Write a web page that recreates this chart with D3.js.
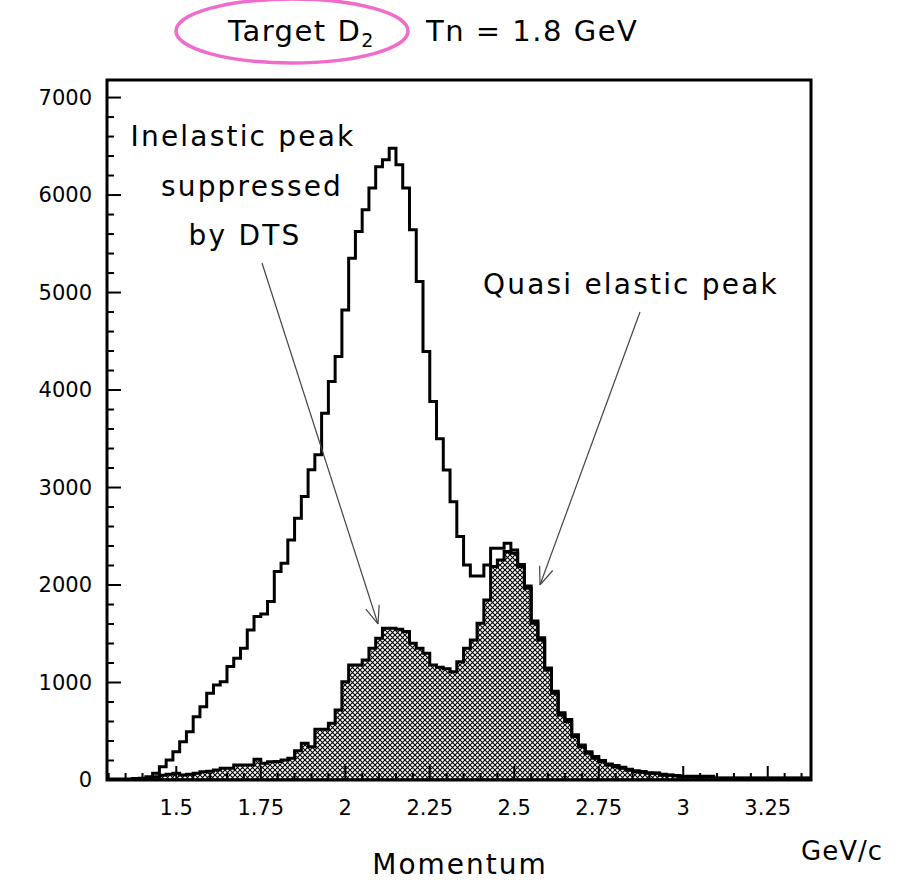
<!DOCTYPE html>
<html><head><meta charset="utf-8">
<script src="https://cdn.jsdelivr.net/npm/d3@7"></script>
<style>body{margin:0;background:#fff}</style>
</head><body>
<script>
// histogram bins: width 0.02 GeV starting at 1.29
var binStart = 1.29, binWidth = 0.02;
var totalCounts = [0,0,0,0,0,0,10,
	68,137,205,290,393,496,650,752,889,975,1009,1163,1248,1351,1539,1676,1703,1830,2138,2223,2462,2685,2907,3181,3335,
	3762,4087,4343,4822,5352,5626,5848,6071,6289,6361,6481,6310,6071,5643,5113,4395,3882,
	3500,3180,2855,2497,2206,2093,2093,2206,2377,2377,2428,2360,
	2210,1990,1630,1460,1150,910,690,620,465,360,290,240,200,165,148,130,110,95,88,75,72,58,52,45,38,38,38,38,38,
	20,20,20,20,20,20,20,20,20,20,20,20,20,20];
var dtsCounts = [10,10,10,10,15,17,34,
	34,50,60,68,51,60,68,85,90,103,120,120,154,154,154,212,171,188,190,205,222,300,376,342,520,520,581,718,1009,
	1180,1180,1231,1351,1453,1556,1556,1546,1522,1402,1351,1300,1180,1156,1140,1111,
	1214,1351,1436,1607,1847,2189,2257,2343,2326,2189,1966,1607,1436,1129,889,667,599,445,342,274,222,188,154,137,120,100,85,80,68,68,50,48,40,
	34,34,34,34,34,17,17,17,17,17,17,17,17,17,17,17,17,17,17];
var xTicks = [1.5,1.75,2,2.25,2.5,2.75,3,3.25];
var yTicks = [0,1000,2000,3000,4000,5000,6000,7000];

var W = 913, H = 882, font = "DejaVu Sans";
var mLeft = 107, mRight = 811, mTop = 80, mBottom = 780;
var x = d3.scaleLinear().domain([1.295, 3.378]).range([mLeft, mRight]);
var y = d3.scaleLinear().domain([0, 7180]).range([mBottom, mTop]);

var svg = d3.select("body").append("svg").attr("width", W).attr("height", H);

var defs = svg.append("defs");
var pat = defs.append("pattern").attr("id", "hatch").attr("patternUnits", "userSpaceOnUse")
	.attr("width", 5).attr("height", 5);
pat.append("rect").attr("width", 5).attr("height", 5).attr("fill", "#fff");
pat.append("path").attr("d", "M0,0L5,5M5,0L0,5").attr("stroke", "#000").attr("stroke-width", 1.1);
defs.append("marker").attr("id", "arr").attr("viewBox", "0 0 20 20").attr("refX", 20).attr("refY", 10)
	.attr("markerWidth", 20).attr("markerHeight", 20).attr("markerUnits", "userSpaceOnUse").attr("orient", "auto")
	.append("path").attr("d", "M2,3L20,10L2,17").attr("fill", "none").attr("stroke", "#444").attr("stroke-width", 1.2);

function stepPath(counts){
	var d = "M" + x(binStart) + "," + y(0);
	counts.forEach(function(c, i){
		var x0 = x(binStart + i*binWidth), x1 = x(binStart + (i+1)*binWidth);
		d += "L" + x0 + "," + y(c) + "L" + x1 + "," + y(c);
	});
	return d + "L" + x(binStart + counts.length*binWidth) + "," + y(0);
}

var g = svg.append("g");
g.append("clipPath").attr("id", "clip").append("rect")
	.attr("x", mLeft).attr("y", mTop).attr("width", mRight-mLeft).attr("height", mBottom-mTop);
var plot = g.append("g").attr("clip-path", "url(#clip)");
plot.append("path").attr("d", stepPath(dtsCounts) + "Z").attr("fill", "url(#hatch)")
	.attr("stroke", "#000").attr("stroke-width", 3).attr("stroke-linejoin", "miter");
plot.append("path").attr("d", stepPath(totalCounts)).attr("fill", "none")
	.attr("stroke", "#000").attr("stroke-width", 3);

// ticks (inward)
var yMinor = d3.range(0, 7001, 200);
g.selectAll(".ym").data(yMinor).enter().append("line")
	.attr("x1", mLeft).attr("x2", function(d){ return mLeft + (d % 1000 === 0 ? 14 : 7); })
	.attr("y1", function(d){ return y(d); }).attr("y2", function(d){ return y(d); })
	.attr("stroke", "#000").attr("stroke-width", 2);
var xMinor = d3.range(1.30, 3.37, 0.05);
g.selectAll(".xm").data(xMinor).enter().append("line")
	.attr("x1", function(d){ return x(d); }).attr("x2", function(d){ return x(d); })
	.attr("y1", mBottom).attr("y2", function(d){ return mBottom - (Math.abs(d*4 - Math.round(d*4)) < 1e-6 ? 14 : 7); })
	.attr("stroke", "#000").attr("stroke-width", 2);

g.append("rect").attr("x", mLeft).attr("y", mTop).attr("width", mRight-mLeft).attr("height", mBottom-mTop)
	.attr("fill", "none").attr("stroke", "#000").attr("stroke-width", 3);

g.selectAll(".yl").data(yTicks).enter().append("text")
	.attr("x", mLeft - 15).attr("y", function(d){ return y(d); }).attr("dy", "0.35em")
	.attr("text-anchor", "end").attr("font-family", font).attr("font-size", 21).text(function(d){ return d; });
g.selectAll(".xl").data(xTicks).enter().append("text")
	.attr("x", function(d){ return x(d); }).attr("y", mBottom + 35)
	.attr("text-anchor", "middle").attr("font-family", font).attr("font-size", 21).text(function(d){ return d; });

svg.append("text").attr("x", 460).attr("y", 874).attr("text-anchor", "middle").attr("letter-spacing", 2)
	.attr("font-family", font).attr("font-size", 28).text("Momentum");
svg.append("text").attr("x", 842).attr("y", 860).attr("text-anchor", "middle").attr("letter-spacing", 1)
	.attr("font-family", font).attr("font-size", 26).text("GeV/c");

// title
var title = svg.append("text").attr("y", 41).attr("font-family", font).attr("font-size", 29).attr("letter-spacing", 1.5);
title.append("tspan").attr("x", 228).text("Target D");
title.append("tspan").attr("font-size", 19).attr("dy", 6).text("2");
title.append("tspan").attr("dy", -6).attr("x", 426).text("Tn = 1.8 GeV");
svg.append("ellipse").attr("cx", 292).attr("cy", 31).attr("rx", 116).attr("ry", 32)
	.attr("fill", "none").attr("stroke", "#f06ccc").attr("stroke-width", 3.5);

// annotations
var ann = svg.append("text").attr("font-family", font).attr("font-size", 28).attr("letter-spacing", 2.2)
	.attr("text-anchor", "middle");
ann.append("tspan").attr("x", 243).attr("y", 146).text("Inelastic peak");
ann.append("tspan").attr("x", 252).attr("y", 196).text("suppressed");
ann.append("tspan").attr("x", 245).attr("y", 245).text("by DTS");
svg.append("text").attr("x", 631).attr("y", 294).attr("text-anchor", "middle").attr("letter-spacing", 2.2)
	.attr("font-family", font).attr("font-size", 28).text("Quasi elastic peak");
svg.append("line").attr("x1", 262).attr("y1", 263).attr("x2", 378).attr("y2", 624)
	.attr("stroke", "#444").attr("stroke-width", 1.2).attr("marker-end", "url(#arr)");
svg.append("line").attr("x1", 640).attr("y1", 312).attr("x2", 540).attr("y2", 585)
	.attr("stroke", "#444").attr("stroke-width", 1.2).attr("marker-end", "url(#arr)");
</script>
</body></html>
